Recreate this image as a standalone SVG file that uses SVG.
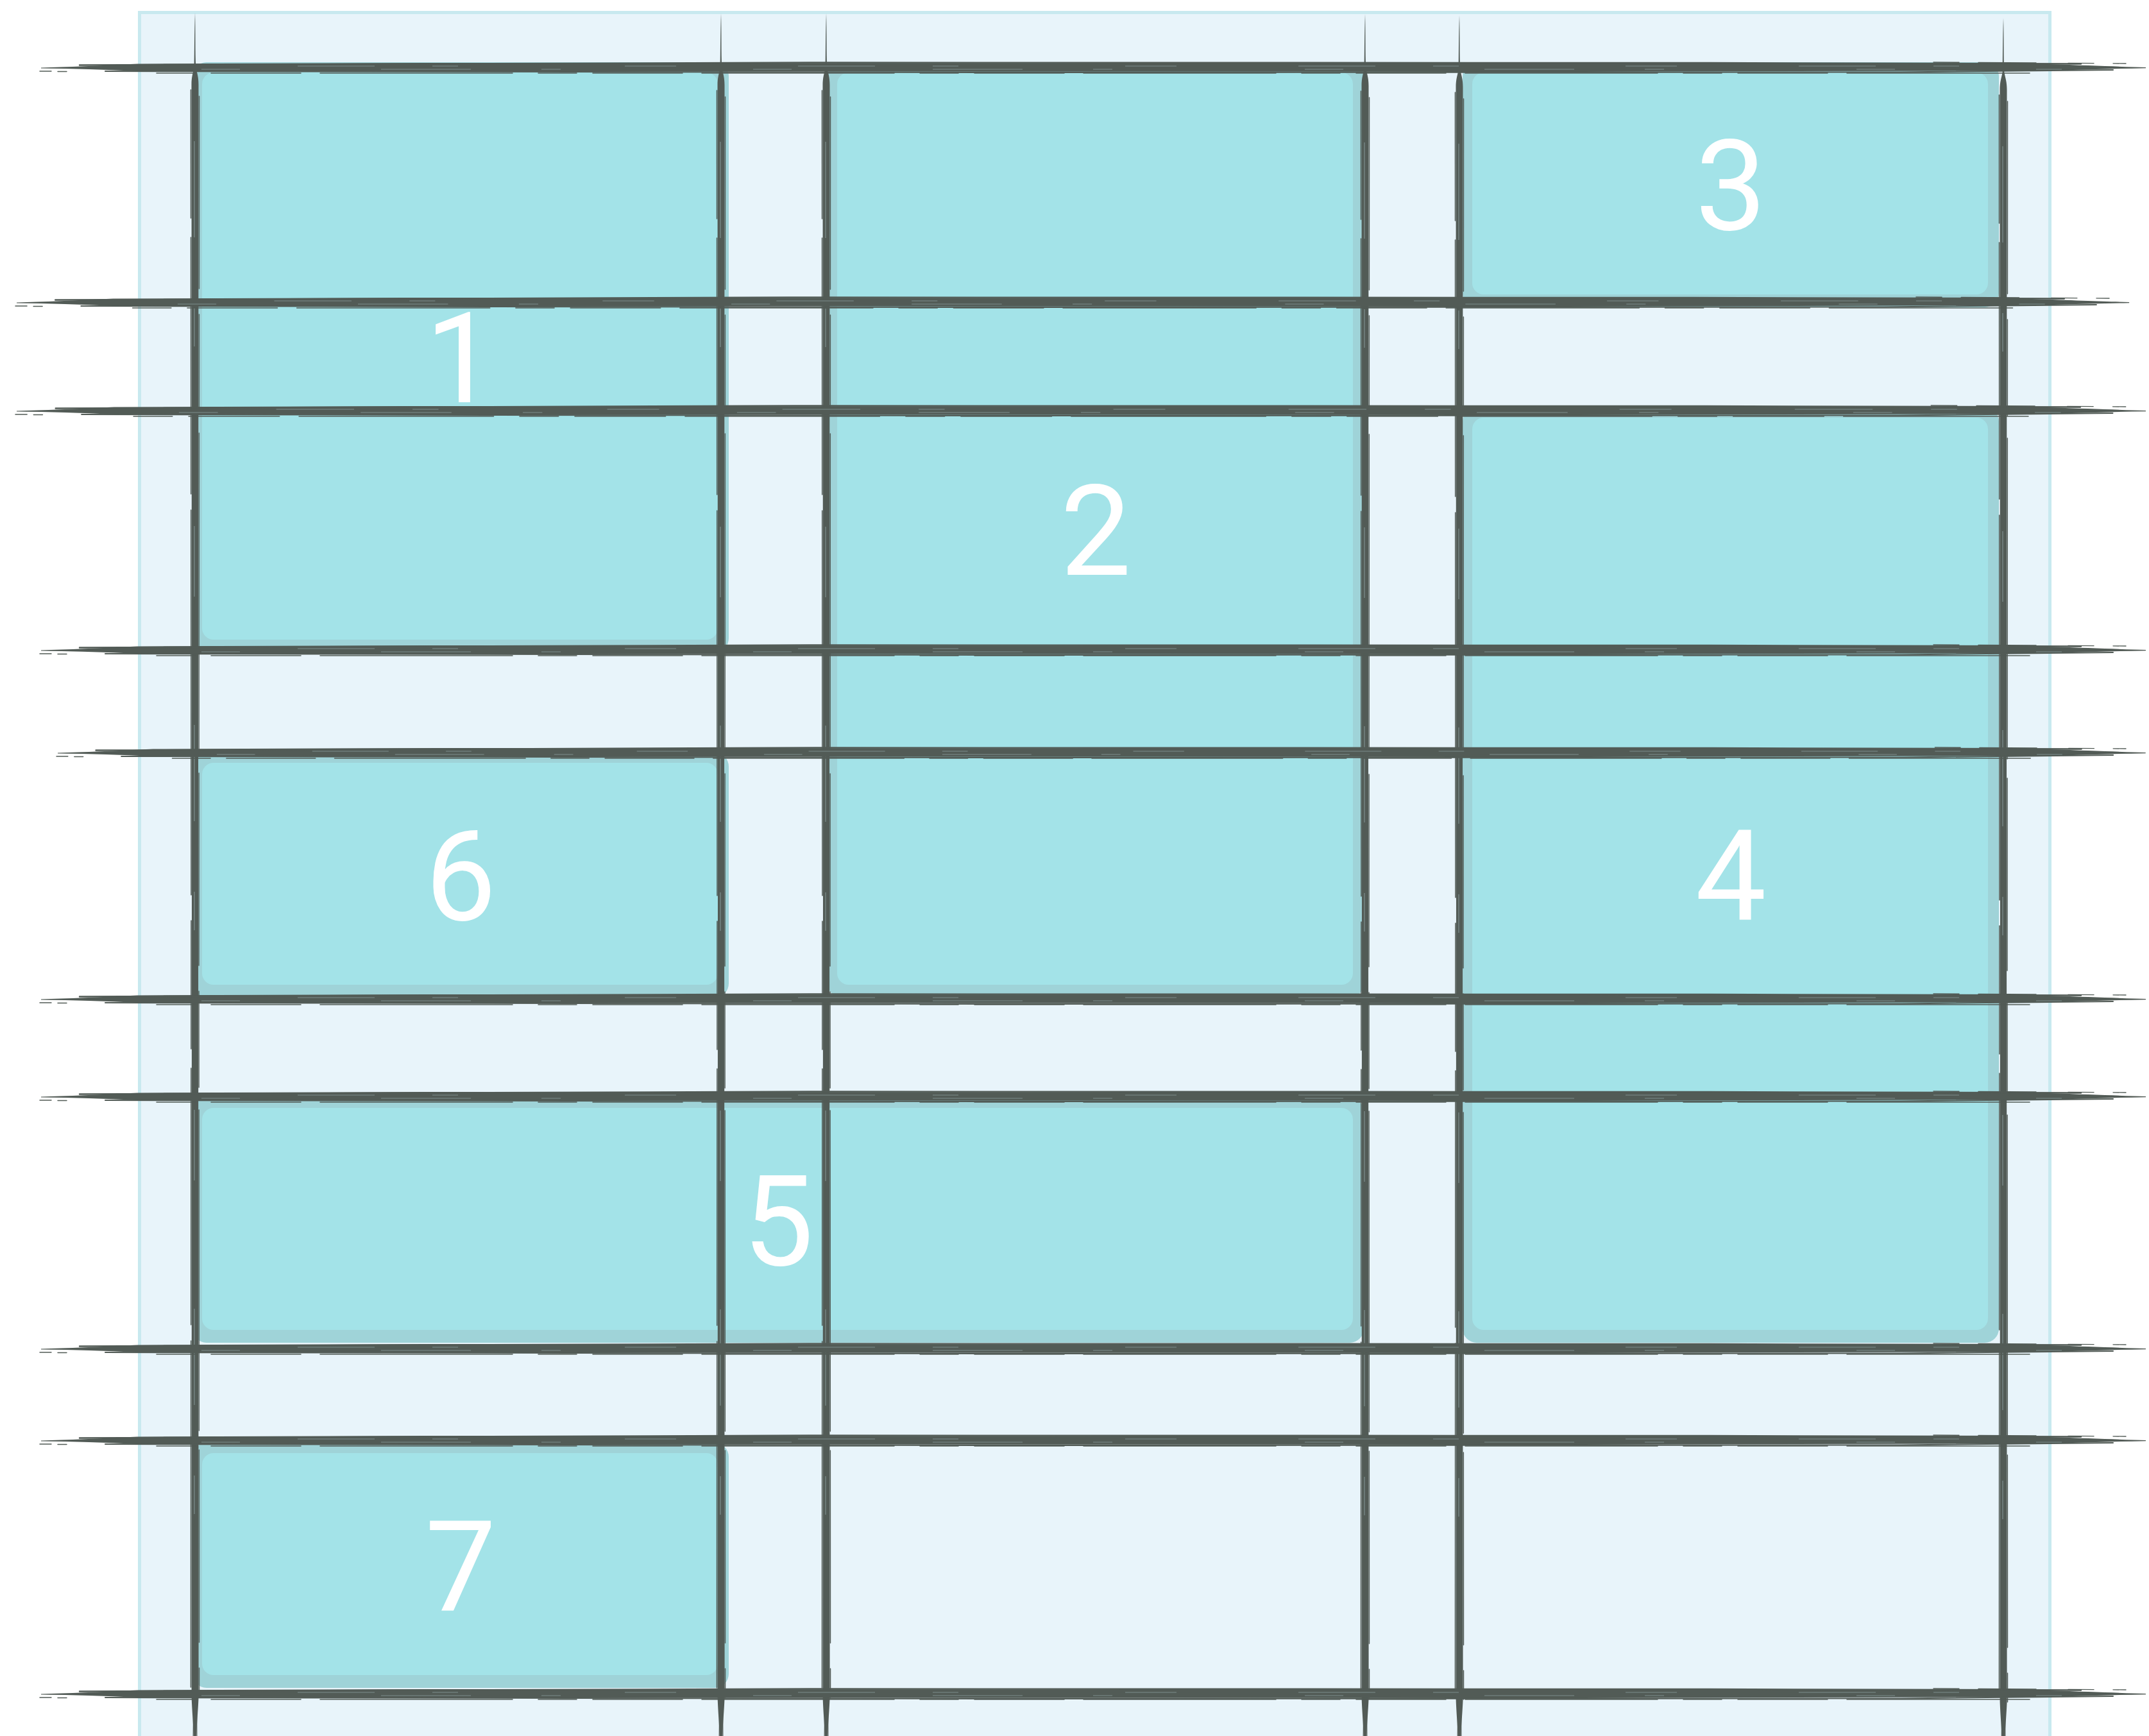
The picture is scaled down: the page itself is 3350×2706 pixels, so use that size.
<svg xmlns="http://www.w3.org/2000/svg" xmlns:xlink="http://www.w3.org/1999/xlink" width="3350" height="2706" viewBox="0 0 3350 2706">
  <style>
    .container { fill: #e8f4fa; stroke: #c8e9ef; stroke-width: 5; }
    .item-outer { fill: #9fd3d8; }
    .item-inner { fill: #a3e3e8; }
    .label { font-family: Roboto, "Liberation Sans", sans-serif; font-size: 197px; fill: #ffffff; text-anchor: middle; }
    .ink { fill: #525b56; }
    .strand { fill: none; stroke: #525b56; stroke-linecap: round; }
    .streak { fill: none; stroke: #bfdde2; stroke-opacity: 0.4; stroke-width: 1.2; }
  </style>
  <defs>
    <g id="hline">
      <path class="ink" d="M0,0.5 C40,-0.5 90,-2.5 150,-5.5 L600,-7 L1800,-6.5 L3000,-7 L3130,-5 C3200,-2.5 3250,-1 3281,0 L3281,1.2 C3230,2 3180,3.5 3130,5 L2400,7 L900,6.5 L150,6 C100,3.5 50,2 0,1.5 Z"/>
      <path class="strand" stroke-width="2.4" d="M60,-3.5 L1200,-7.5 L2600,-7 L3180,-5.5"/>
      <path class="strand" stroke-width="2" d="M100,6 L1500,8 L2900,7.5 L3230,4"/>
      <path class="strand" stroke-width="1.5" stroke-dasharray="60 25 140 30 300 40" d="M180,9 L3100,9"/>
      <path class="strand" stroke-width="1.4" stroke-dasharray="40 30 90 50" d="M2950,-8 L3250,-6"/>
      <path class="strand" stroke-width="1.4" d="M-2,6 L16,6 M26,6.5 L40,6.5"/>
      <path class="streak" stroke-dasharray="120 90 40 260 80 190" d="M400,-2 L3100,-2"/>
      <path class="streak" stroke-dasharray="60 220 140 110 30 300" d="M250,3 L3150,3"/>
    </g>
    <g id="vline">
      <path class="ink" d="M0,0 C1,30 0,60 1.4,85 C3.5,95 5.5,100 5.5,112 L5,1300 L5.6,2625 C4.5,2650 2.5,2670 1.2,2700 L-1.2,2700 C-2.5,2670 -4.5,2650 -5.4,2625 L-5,1300 L-5.5,112 C-5.5,100 -3.5,95 -1.4,85 C-1,60 -1,30 0,0 Z"/>
      <path class="strand" stroke-width="1.6" stroke-dasharray="200 30 400 25 600 40" d="M-6.5,120 L-6,1400 L-6.5,2610"/>
      <path class="strand" stroke-width="1.5" stroke-dasharray="300 40 150 35 500 30" d="M6.5,130 L6,1500 L6.5,2625"/>
      <path class="strand" stroke-width="1.2" d="M-2,2620 L-3,2700 M2.5,2630 L3,2700"/>
      <path class="streak" stroke-dasharray="150 110 60 280 110 200" d="M-1,200 L-1,2600"/>
    </g>
  </defs>

  <rect id="grid-container" class="container" x="217.5" y="19.5" width="2978" height="2720"/>

  <g id="item-1">
    <rect class="item-outer" x="300" y="97" width="836" height="920" rx="22"/>
    <rect class="item-inner" x="315" y="113" width="804" height="884" rx="18"/>
    <text class="label" x="718" y="627">1</text>
  </g>
  <g id="item-2">
    <rect class="item-outer" x="1290" y="97" width="836" height="1458" rx="22"/>
    <rect class="item-inner" x="1305" y="113" width="804" height="1422" rx="18"/>
    <text class="label" x="1708" y="896">2</text>
  </g>
  <g id="item-3">
    <rect class="item-outer" x="2280" y="97" width="836" height="382" rx="22"/>
    <rect class="item-inner" x="2295" y="113" width="804" height="346" rx="18"/>
    <text class="label" x="2698" y="358">3</text>
  </g>
  <g id="item-4">
    <rect class="item-outer" x="2280" y="635" width="836" height="1458" rx="22"/>
    <rect class="item-inner" x="2295" y="651" width="804" height="1422" rx="18"/>
    <text class="label" x="2698" y="1434">4</text>
  </g>
  <g id="item-5">
    <rect class="item-outer" x="300" y="1711" width="1826" height="382" rx="22"/>
    <rect class="item-inner" x="315" y="1727" width="1794" height="346" rx="18"/>
    <text class="label" x="1213" y="1972">5</text>
  </g>
  <g id="item-6">
    <rect class="item-outer" x="300" y="1173" width="836" height="382" rx="22"/>
    <rect class="item-inner" x="315" y="1189" width="804" height="346" rx="18"/>
    <text class="label" x="718" y="1434">6</text>
  </g>
  <g id="item-7">
    <rect class="item-outer" x="300" y="2249" width="836" height="382" rx="22"/>
    <rect class="item-inner" x="315" y="2265" width="804" height="346" rx="18"/>
    <text class="label" x="718" y="2510">7</text>
  </g>

  <g id="grid-lines">
    <use xlink:href="#vline" transform="translate(304,20)"/>
    <use xlink:href="#vline" transform="translate(1124,21)"/>
    <use xlink:href="#vline" transform="translate(1288,21)"/>
    <use xlink:href="#vline" transform="translate(2128,22)"/>
    <use xlink:href="#vline" transform="translate(2275,24)"/>
    <use xlink:href="#vline" transform="translate(3123,28)"/>

    <use xlink:href="#hline" transform="translate(64,105)"/>
    <use xlink:href="#hline" transform="translate(26,471) scale(1.0037,1)"/>
    <use xlink:href="#hline" transform="translate(26,640) scale(1.0116,1)"/>
    <use xlink:href="#hline" transform="translate(64,1013)"/>
    <use xlink:href="#hline" transform="translate(90,1173) scale(0.992,1)"/>
    <use xlink:href="#hline" transform="translate(64,1557)"/>
    <use xlink:href="#hline" transform="translate(64,1709)"/>
    <use xlink:href="#hline" transform="translate(64,2102)"/>
    <use xlink:href="#hline" transform="translate(64,2245)"/>
    <use xlink:href="#hline" transform="translate(64,2640)"/>
  </g>
</svg>
